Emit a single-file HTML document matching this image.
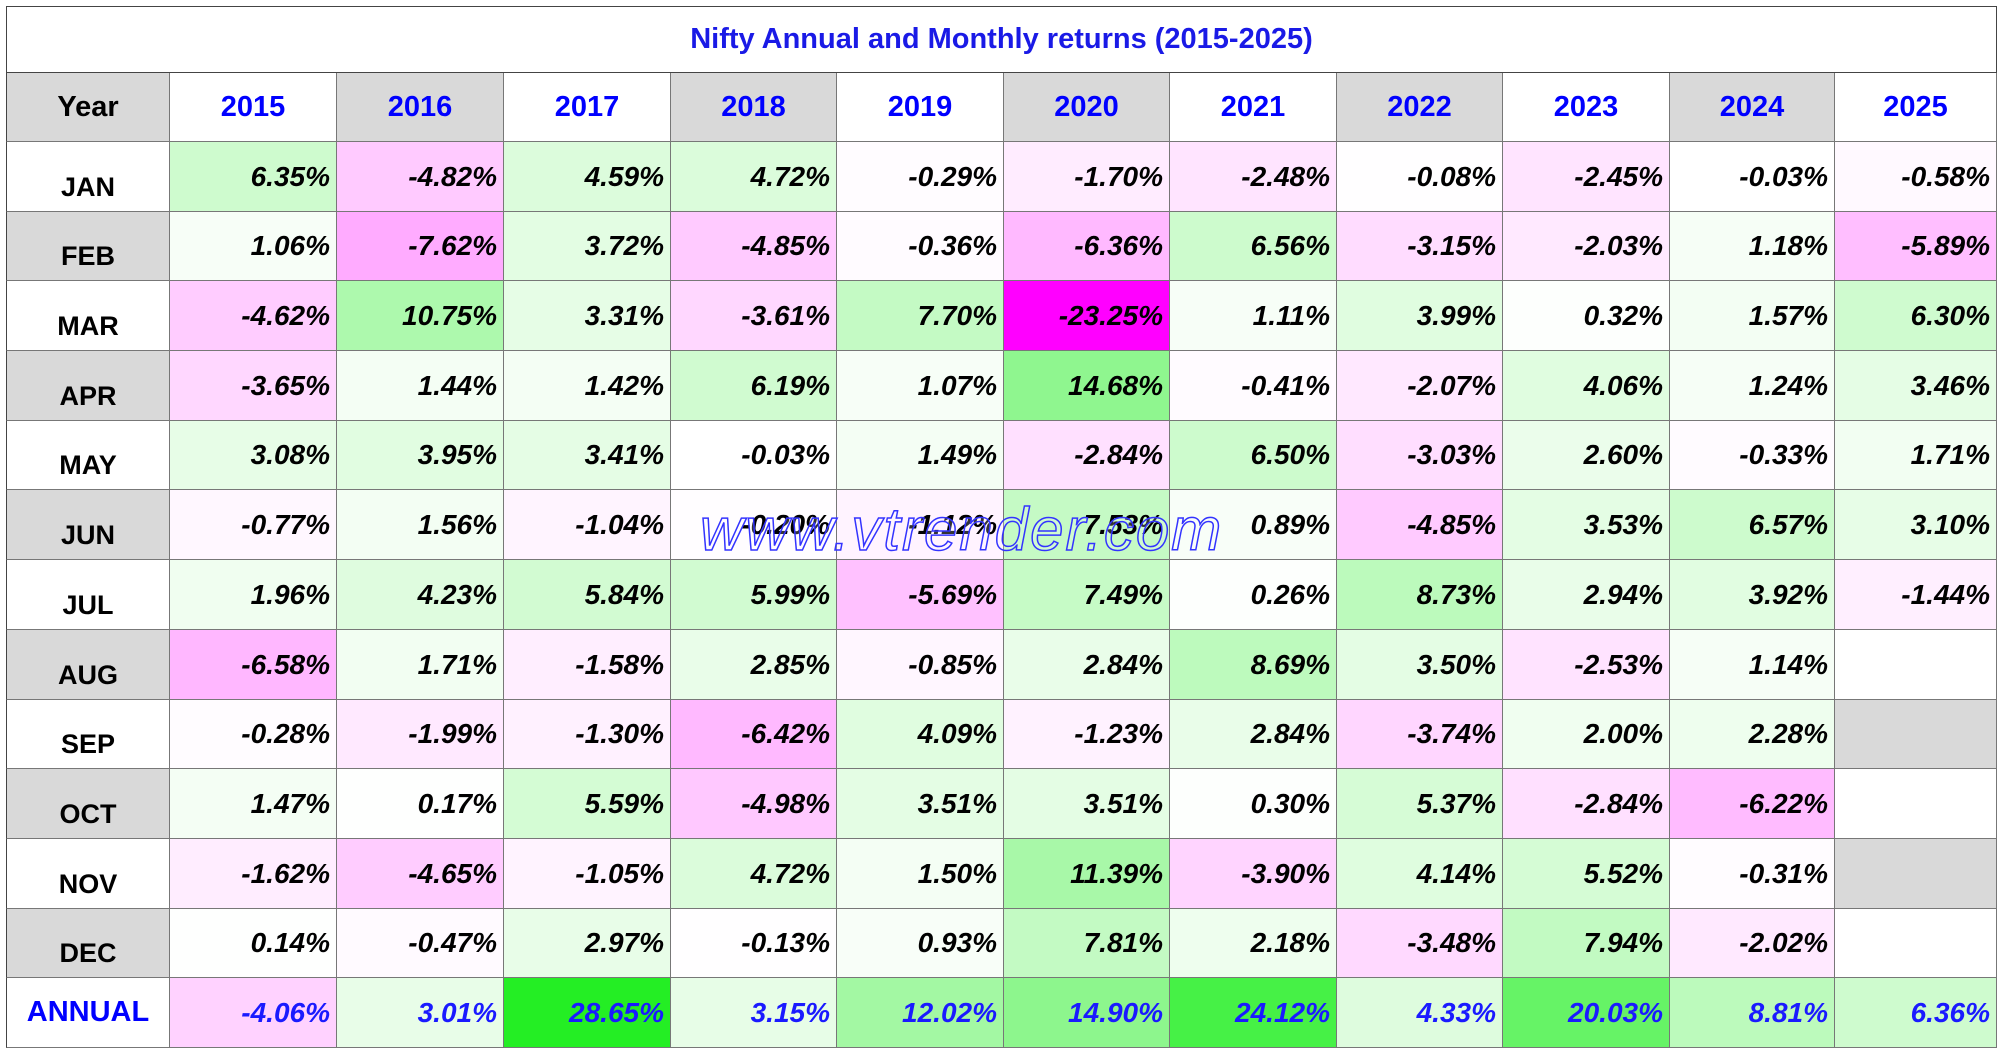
<!DOCTYPE html>
<html><head><meta charset="utf-8"><style>
body{margin:0;width:2000px;height:1050px;background:#fff;font-family:"Liberation Sans",Arial,sans-serif;overflow:hidden;position:relative}
.c{position:absolute;box-sizing:border-box;border-right:1px solid #777;border-bottom:1px solid #777;font-weight:bold;display:flex;align-items:center}
.v{justify-content:flex-end;padding-right:6px;font-style:italic;font-size:28px;color:#000}
.m{justify-content:center;font-size:27px;align-items:flex-end;padding-bottom:8px}
.h{justify-content:center;font-size:29px;color:#0000ff}
#title{position:absolute;left:6px;top:6px;width:1991px;height:67px;border:1px solid #444;box-sizing:border-box;display:flex;align-items:center;justify-content:center;color:#1a1ae6;font-weight:bold;font-size:29px}
#wm{position:absolute;left:700px;top:495px;font-size:60px;font-style:italic;color:rgba(255,255,255,0.2);-webkit-text-stroke:1.5px #3333ff;letter-spacing:2px;pointer-events:none}
</style></head><body>
<div id="title">Nifty Annual and Monthly returns (2015-2025)</div>
<div id="grid"></div>
<div id="wm">www.vtrender.com</div>
<script>
const years=[2015,2016,2017,2018,2019,2020,2021,2022,2023,2024,2025];
const months=["JAN","FEB","MAR","APR","MAY","JUN","JUL","AUG","SEP","OCT","NOV","DEC","ANNUAL"];
const r2015=[6.35,1.06,-4.62,-3.65,3.08,-0.77,1.96,-6.58,-0.28,1.47,-1.62,0.14,-4.06];
const r2016=[-4.82,-7.62,10.75,1.44,3.95,1.56,4.23,1.71,-1.99,0.17,-4.65,-0.47,3.01];
const r2017=[4.59,3.72,3.31,1.42,3.41,-1.04,5.84,-1.58,-1.30,5.59,-1.05,2.97,28.65];
const r2018=[4.72,-4.85,-3.61,6.19,-0.03,-0.20,5.99,2.85,-6.42,-4.98,4.72,-0.13,3.15];
const r2019=[-0.29,-0.36,7.70,1.07,1.49,-1.12,-5.69,-0.85,4.09,3.51,1.50,0.93,12.02];
const r2020=[-1.70,-6.36,-23.25,14.68,-2.84,7.53,7.49,2.84,-1.23,3.51,11.39,7.81,14.90];
const r2021=[-2.48,6.56,1.11,-0.41,6.50,0.89,0.26,8.69,2.84,0.30,-3.90,2.18,24.12];
const r2022=[-0.08,-3.15,3.99,-2.07,-3.03,-4.85,8.73,3.50,-3.74,5.37,4.14,-3.48,4.33];
const r2023=[-2.45,-2.03,0.32,4.06,2.60,3.53,2.94,-2.53,2.00,-2.84,5.52,7.94,20.03];
const r2024=[-0.03,1.18,1.57,1.24,-0.33,6.57,3.92,1.14,2.28,-6.22,-0.31,-2.02,8.81];
const r2025=[-0.58,-5.89,6.30,3.46,1.71,3.10,-1.44,null,null,null,null,null,6.36];
const series=[r2015,r2016,r2017,r2018,r2019,r2020,r2021,r2022,r2023,r2024,r2025];
const colX=[6,170,337,504,671,837,1004,1170,1337,1503,1670,1835,1997];
const top0=73,hdrH=69,rowH=(1048-142)/13;
const g=document.getElementById('grid');
function col(v){
  if(v>=0){const t=Math.min(v/30,1);const r=Math.round(255*(1-t*0.9));return `rgb(${r},${Math.round(255-18*t)},${r})`;}
  const t=Math.min(-v/23.25,1);return `rgb(255,${Math.round(255*(1-t))},255)`;
}
function cell(x,y,w,h,cls,txt,bg,color){
  const d=document.createElement('div');d.className='c '+cls;
  d.style.left=x+'px';d.style.top=y+'px';d.style.width=w+'px';d.style.height=h+'px';
  if(bg)d.style.background=bg;if(color)d.style.color=color;d.textContent=txt;g.appendChild(d);return d;
}
let d=cell(6,top0,164,hdrH,'h','Year','#d9d9d9','#000');
d.style.borderLeft='1px solid #444';


years.forEach((y,i)=>{
  const e=cell(colX[i+1],top0,colX[i+2]-colX[i+1],hdrH,'h',String(y),i%2?'#d9d9d9':'#fff');
  
  
});
months.forEach((m,r)=>{
  const y=Math.round(142+r*rowH),h=Math.round(142+(r+1)*rowH)-y;
  const ann=m==='ANNUAL';
  const e=cell(6,y,164,h,ann?'h':'m',m,(r%2)?'#d9d9d9':'#fff',ann?'#0000ff':'#000');
  e.style.borderLeft='1px solid #444';
  if(ann){e.style.alignItems='center';}
  
  
  series.forEach((s,i)=>{
    const v=s[r];
    const bg=v==null?((r%2)?'#fff':'#d9d9d9'):col(v);
    const c=cell(colX[i+1],y,colX[i+2]-colX[i+1],h,'v',v==null?'':v.toFixed(2)+'%',bg,ann?'#1a1aff':'#000');
    
    
  });
});
</script>
</body></html>
